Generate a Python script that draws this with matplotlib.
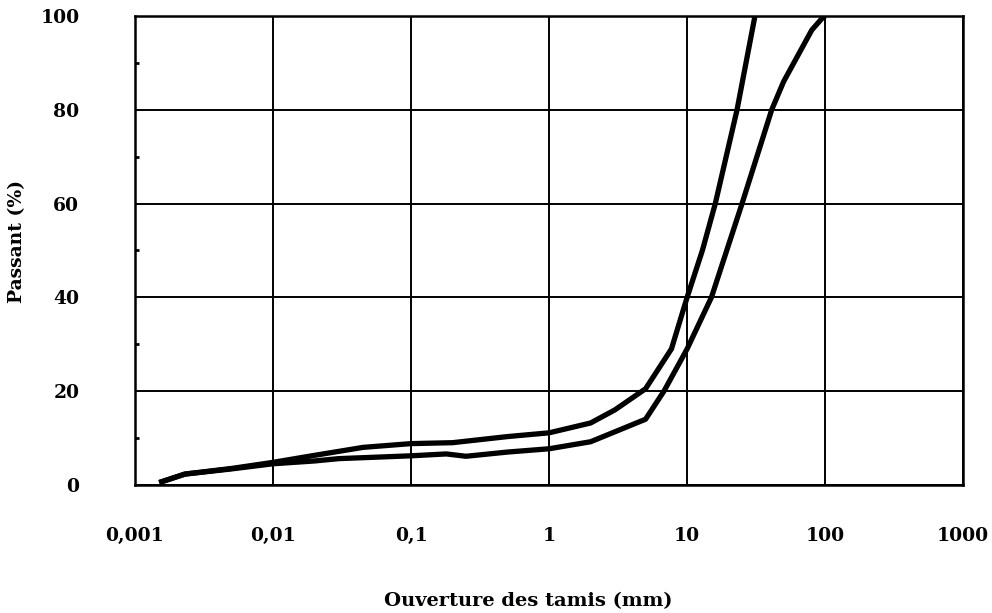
import numpy as np
import matplotlib.pyplot as plt
from matplotlib.ticker import FixedLocator

# Courbes granulometriques (ouverture en mm, passant en %)
fine_x = [0.0015, 0.0023, 0.005, 0.01, 0.02, 0.045, 0.1, 0.2, 0.5, 1, 2, 3, 5, 7.7, 10, 12.9, 16, 23, 31]
fine_y = [0.5, 2.3, 3.5, 4.8, 6.3, 8.0, 8.8, 9.0, 10.3, 11.1, 13.2, 16, 20.5, 29, 40, 50, 60, 80, 100]

gros_x = [0.0015, 0.0023, 0.005, 0.01, 0.02, 0.03, 0.1, 0.18, 0.25, 0.5, 1, 2, 5, 6.8, 10, 15, 25, 41, 50, 80, 95, 100]
gros_y = [0.5, 2.3, 3.4, 4.5, 5.1, 5.6, 6.2, 6.6, 6.1, 7.0, 7.7, 9.2, 14, 20, 29, 40, 60, 80, 86, 97, 99.5, 100]

xticks = [0.001, 0.01, 0.1, 1, 10, 100, 1000]
xlabels = ["0,001", "0,01", "0,1", "1", "10", "100", "1000"]
yticks = [0, 20, 40, 60, 80, 100]

plt.rcParams['font.family'] = 'DejaVu Serif'
plt.rcParams['font.weight'] = 'bold'

fig = plt.figure(figsize=(9.92, 6.13), dpi=100)
ax = fig.add_axes([0.136, 0.209, 0.835, 0.765])

ax.plot(fine_x, fine_y, color="black", lw=3.8, solid_capstyle="butt")
ax.plot(gros_x, gros_y, color="black", lw=3.8, solid_capstyle="butt")

ax.set_xscale("log")
ax.set_xlim(0.001, 1000)
ax.set_ylim(0, 100)
ax.set_xticks(xticks)
ax.set_xticklabels(xlabels)
ax.xaxis.set_minor_locator(FixedLocator([]))
ax.set_yticks(yticks)
ax.yaxis.set_minor_locator(FixedLocator(np.arange(10, 100, 20)))
ax.tick_params(axis="both", which="major", length=0, labelsize=13.5)
ax.tick_params(axis="x", which="major", pad=30)
ax.tick_params(axis="y", which="major", pad=40)
ax.tick_params(axis="y", which="minor", direction="in", length=3, width=2)

ax.grid(True, which="major", color="black", lw=1.4)
for s in ax.spines.values():
    s.set_linewidth(1.8)

ax.set_xlabel("Ouverture des tamis (mm)", fontsize=14, fontweight="bold")
ax.set_ylabel("Passant (%)", fontsize=13.5, fontweight="bold")
ax.xaxis.set_label_coords(0.475, -0.228)
ax.yaxis.set_label_coords(-0.131, 0.52)

fig.savefig("out.png", dpi=100)
